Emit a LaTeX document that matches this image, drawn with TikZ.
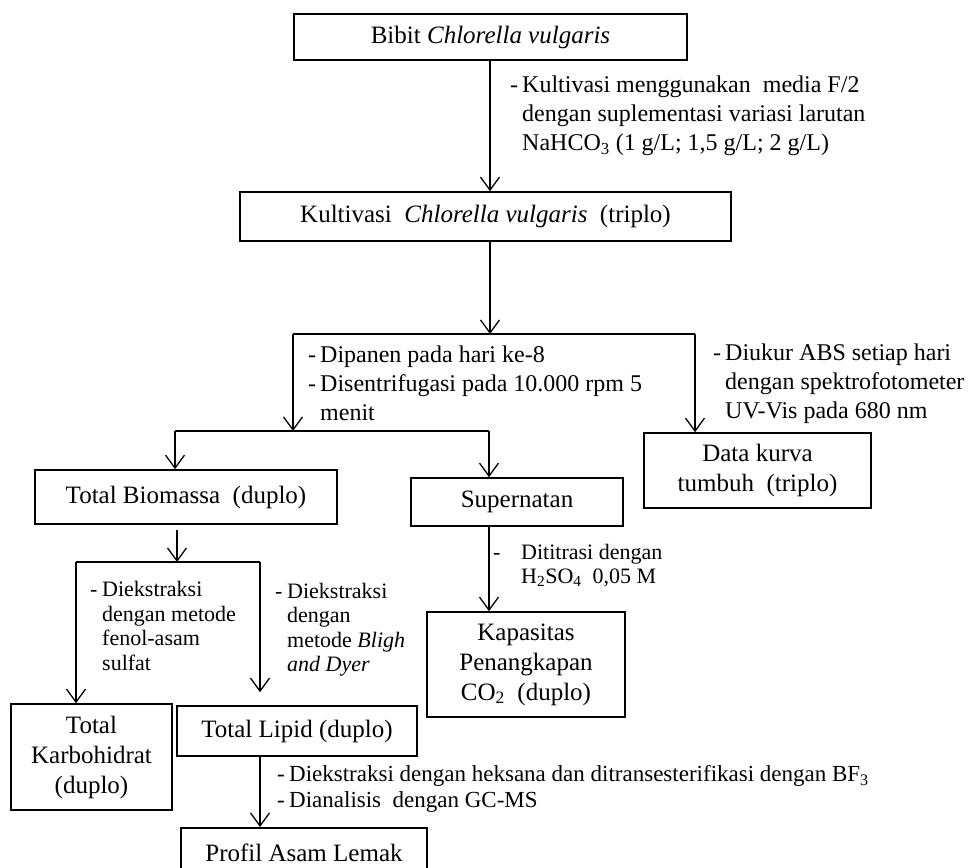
\documentclass[tikz,border=0pt]{standalone}
\usepackage{fontspec}
\setmainfont{Liberation Serif}
\usetikzlibrary{arrows.meta,positioning}
\tikzstyle{langkah}=[
	rectangle,
	draw=black,
	line width=1.6pt,
	align=center,
	inner sep=0pt,
	font=\fontsize{25}{30}\selectfont
]
\tikzstyle{alir}=[
	-{Straight Barb[length=13pt,width=19pt]},
	line width=1.3pt
]
\tikzstyle{garis}=[
	line width=1.3pt
]
\tikzstyle{catatan}=[
	anchor=west,
	align=left,
	inner sep=0pt,
	font=\fontsize{24}{29}\selectfont
]
\tikzstyle{catatankecil}=[
	catatan,
	font=\fontsize{22}{24.5}\selectfont
]
\newcommand{\strip}{\makebox[12pt][l]{-}}
\newcommand{\indentstrip}{\hspace*{12pt}}

\begin{document}
\begin{tikzpicture}[x=1pt,y=-1pt]
\useasboundingbox (0,0) rectangle (979,867);
\clip (0,0) rectangle (979,867);
% kotak
\node [langkah, minimum width=393pt, minimum height=46pt] (Bibit) at (490.5,37) {Bibit \textit{Chlorella vulgaris}};
\node [langkah, minimum width=491pt, minimum height=49pt] (Kultivasi) at (485.5,216.5) {Kultivasi~ \textit{Chlorella vulgaris}~ (triplo)};
\node [langkah, minimum width=302pt, minimum height=54pt] (Biomassa) at (186,497) {Total Biomassa~ (duplo)};
\node [langkah, minimum width=212pt, minimum height=48pt] (Supernatan) at (517,502) {Supernatan};
\node [langkah, minimum width=227pt, minimum height=75pt] (KurvaTumbuh) at (757.5,470.5) {Data kurva\\tumbuh~ (triplo)};
\node [langkah, minimum width=198pt, minimum height=105pt] (Kapasitas) at (526,664.5) {Kapasitas\\Penangkapan\\CO\textsubscript{2}~ (duplo)};
\node [langkah, minimum width=161pt, minimum height=106pt] (Karbohidrat) at (91.5,757) {Total\\Karbohidrat\\(duplo)};
\node [langkah, minimum width=240pt, minimum height=50pt] (Lipid) at (297,731) {Total Lipid (duplo)};
\node [langkah, minimum width=246pt, minimum height=50pt, anchor=north] (ProfilAsam) at (304,827) {Profil Asam Lemak};
% titik cabang
\coordinate (Pecah1) at (490,334);
\coordinate (Pecah1Kiri) at (293,334);
\coordinate (Pecah1Kanan) at (695,334);
\coordinate (Pecah2) at (293,431);
\coordinate (Pecah2Kiri) at (175,431);
\coordinate (Pecah2Kanan) at (489,431);
\coordinate (Pecah3) at (177,562);
\coordinate (Pecah3Kiri) at (76,562);
\coordinate (Pecah3Kanan) at (260,562);
% panah
\draw [alir] (Bibit.south -| Pecah1) -- (Kultivasi.north -| Pecah1);
\draw [alir] (Kultivasi.south -| Pecah1) -- (Pecah1);
\draw [garis] (Pecah1Kiri) -- (Pecah1Kanan);
\draw [alir] (Pecah1Kiri) -- (Pecah2);
\draw [alir] (Pecah1Kanan) -- (Pecah1Kanan |- KurvaTumbuh.north);
\draw [garis] (Pecah2Kiri) -- (Pecah2Kanan);
\draw [alir] (Pecah2Kiri) -- (Pecah2Kiri |- Biomassa.north);
\draw [alir] (Pecah2Kanan) -- (Pecah2Kanan |- Supernatan.north);
\draw [alir, shorten <=5pt] (Biomassa.south -| Pecah3) -- (Pecah3);
\draw [garis] (Pecah3Kiri) -- (Pecah3Kanan);
\draw [alir] (Pecah3Kiri) -- (Pecah3Kiri |- Karbohidrat.north);
\draw [alir, shorten >=13pt] (Pecah3Kanan) -- (Pecah3Kanan |- Lipid.north);
\draw [alir] (Supernatan.south -| Pecah2Kanan) -- (Kapasitas.north -| Pecah2Kanan);
\draw [alir] (Lipid.south -| Pecah3Kanan) -- (ProfilAsam.north -| Pecah3Kanan);
% keterangan
\node [catatan] (LblKultivasi) at (510,116) {\strip Kultivasi menggunakan~ media F/2\\\indentstrip dengan suplementasi variasi larutan\\\indentstrip NaHCO\textsubscript{3} (1 g/L; 1,5 g/L; 2 g/L)};
\node [catatan] (LblPanen) at (308,383.5) {\strip Dipanen pada hari ke-8\\\strip Disentrifugasi pada 10.000 rpm 5\\\indentstrip menit};
\node [catatan] (LblUkur) at (713,384) {\strip Diukur ABS setiap hari\\\indentstrip dengan spektrofotometer\\\indentstrip UV-Vis pada 680 nm};
\node [catatankecil] (LblTitrasi) at (493,565.5) {\makebox[28pt][l]{-}Dititrasi dengan\\\hspace*{28pt}H\textsubscript{2}SO\textsubscript{4}~ 0,05 M};
\node [catatankecil] (LblFenol) at (90,626) {\strip Diekstraksi\\\indentstrip dengan metode\\\indentstrip fenol-asam\\\indentstrip sulfat};
\node [catatankecil] (LblBligh) at (275,629.5) {\strip Diekstraksi\\\indentstrip dengan\\\indentstrip metode \textit{Bligh}\\\indentstrip \textit{and Dyer}};
\node [catatankecil, font=\fontsize{23}{26}\selectfont] (LblGcms) at (277,789) {\strip Diekstraksi dengan heksana dan ditransesterifikasi dengan BF\textsubscript{3}\\\strip Dianalisis~ dengan GC-MS};
\end{tikzpicture}
\end{document}
